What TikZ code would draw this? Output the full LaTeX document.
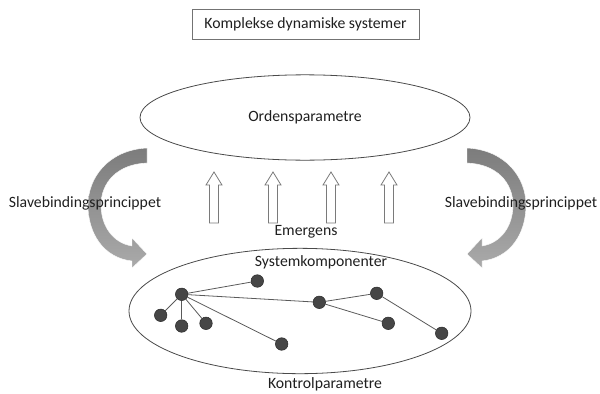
\documentclass[tikz,border=0pt]{standalone}
\usepackage{fontspec}
\setmainfont{Carlito}
\usetikzlibrary{shapes.geometric,backgrounds}
\definecolor{dotgray}{HTML}{464646}
\definecolor{dotedge}{HTML}{2E2E2E}
\definecolor{linkgray}{HTML}{5A5A5A}
\definecolor{outline}{HTML}{4A4A4A}
\definecolor{arrowgray}{HTML}{7A7A7A}
\definecolor{bandtop}{HTML}{7C7C7C}
\definecolor{bandbottom}{HTML}{AAAAAA}
\begin{document}
\begin{tikzpicture}[x=0.75pt,y=-0.75pt,
  font=\fontsize{11.8pt}{14pt}\selectfont,
  dot/.style={circle, fill=dotgray, draw=dotedge, line width=0.4pt, minimum size=9.4pt, inner sep=0pt},
  link/.style={draw=linkgray, line width=0.6pt},
  oval/.style={ellipse, draw=outline, line width=0.6pt, inner sep=0pt},
  label/.style={inner sep=1pt, text=black!88},
  band/.style={top color=bandtop, bottom color=bandbottom, draw=white, line width=0.3pt},
  hollowarrow/.pic={\draw[draw=arrowgray, fill=white, line width=0.6pt]
     (-4.5,51) -- (-4.5,13) -- (-8,13) -- (0,0) -- (8,13) -- (4.5,13) -- (4.5,51) -- cycle;}
]
\useasboundingbox (0,0) rectangle (600,393);

% title
\node[draw=black!55, line width=0.6pt, minimum width=170.25pt, minimum height=22.5pt, inner sep=0pt, text=black!88]
  (title) at (305.5,24) {Komplekse dynamiske systemer};

% top ellipse
\node[oval, minimum width=247.5pt, minimum height=64pt, text=black!88] (orden) at (305,117.5) {Ordensparametre};

% curved arrows
\shade[band]
     (147,148) .. controls (108,150) and (88,178) .. (88,205)
     .. controls (88,234) and (104,258) .. (132,261)
     -- (132,268) -- (147,254) -- (132,238) -- (132,246)
     .. controls (113,243) and (101,226) .. (101,205)
     .. controls (101,182) and (118,164) .. (147,163) -- cycle;
\shade[band]
     (467,148) .. controls (506,150) and (526,178) .. (526,205)
     .. controls (526,234) and (510,258) .. (482,261)
     -- (482,268) -- (467,254) -- (482,238) -- (482,246)
     .. controls (501,243) and (513,226) .. (513,205)
     .. controls (513,182) and (496,164) .. (467,163) -- cycle;
\node[label] (slaveL) at (85,203) {Slavebindingsprincippet};
\node[label] (slaveR) at (521,203) {Slavebindingsprincippet};

% emergence arrows
\pic (em1) at (214,172) {hollowarrow};
\pic (em2) at (273,172) {hollowarrow};
\pic (em3) at (331,172) {hollowarrow};
\pic (em4) at (389,172) {hollowarrow};
\node[label] (emergens) at (306,232) {Emergens};

% bottom ellipse
\node[oval, minimum width=256.5pt, minimum height=94pt] (system) at (300,311) {};
\node[label] (komp) at (321,262) {Systemkomponenter};
\node[label] (kontrol) at (325,384) {Kontrolparametre};

% components
\node[dot] (hub) at (181.7,294.3) {};
\node[dot] (a) at (257.3,281) {};
\node[dot] (b) at (160.7,315.3) {};
\node[dot] (c) at (181.7,326) {};
\node[dot] (d) at (206,323.3) {};
\node[dot] (e) at (281.7,344) {};
\node[dot] (f) at (319.3,302.3) {};
\node[dot] (g) at (376.7,293.3) {};
\node[dot] (h) at (388.3,323.3) {};
\node[dot] (i) at (441.7,333.3) {};

\begin{scope}[on background layer]
\draw[link] (hub) -- (a);
\draw[link] (hub) -- (b);
\draw[link] (hub) -- (c);
\draw[link] (hub) -- (d);
\draw[link] (hub) -- (e);
\draw[link] (hub) -- (f);
\draw[link] (f) -- (g);
\draw[link] (f) -- (h);
\draw[link] (g) -- (i);
\end{scope}
\end{tikzpicture}
\end{document}
